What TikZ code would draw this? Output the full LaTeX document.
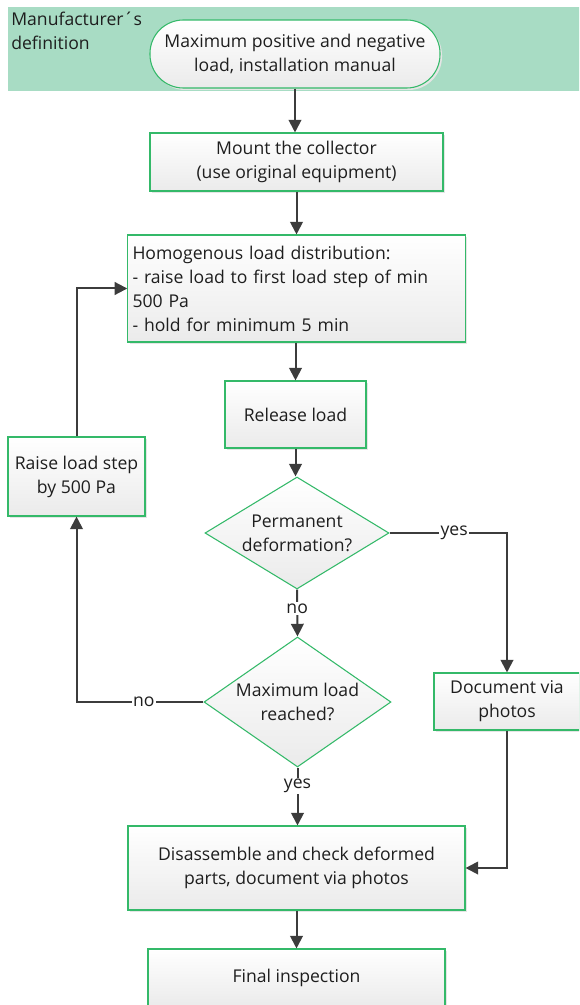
\documentclass[tikz,border=0pt]{standalone}
\usepackage{fontspec}
\setmainfont{Open Sans}
\usetikzlibrary{arrows.meta,shapes.geometric,shadows}
\definecolor{band}{RGB}{168,220,196}
\definecolor{bgreen}{RGB}{52,185,105}
\definecolor{ln}{RGB}{60,60,60}
\definecolor{tx}{RGB}{30,30,30}
\begin{document}
\begin{tikzpicture}[x=0.75pt,y=-0.75pt,
  font=\fontsize{13.2pt}{18pt}\selectfont, text=tx,
  box/.style={draw=bgreen, line width=0.8pt, top color=white, bottom color=black!8,
    align=center, inner sep=0pt,
    drop shadow={shadow xshift=1.5pt, shadow yshift=-1.5pt, fill=black!10, opacity=1}},
  dia/.style={draw=bgreen, line width=0.8pt, top color=white, bottom color=black!8,
    shape=diamond, inner sep=0pt},
  conn/.style={draw=ln, line width=1.5pt, -{Triangle[length=9.5pt,width=9.5pt]}},
  lab/.style={fill=white, inner sep=1pt, text=tx}]
\clip (0,0) rectangle (579,1005);
\useasboundingbox (0,0) rectangle (579,1005);
\fill[band] (8,7) rectangle (582,91);
\node[anchor=north west, align=left, inner sep=0pt] (mf) at (11,12) {Manufacturer´s\\definition};
\node[box, rounded corners=25pt, minimum width=217.5pt, minimum height=51pt] (term) at (295,54)
  {Maximum positive and negative\\load, installation manual};
\node[box, minimum width=219.75pt, minimum height=43.5pt] (mount) at (296.5,162)
  {Mount the collector\\(use original equipment)};
\node[box, minimum width=252.75pt, minimum height=80.25pt, align=left, text width=246pt, inner xsep=3.5pt] (homog) at (296.5,288.5)
  {Homogenous load distribution:\\- raise load to first load step of min\\500 Pa\\- hold for minimum 5 min};
\node[box, minimum width=105.75pt, minimum height=50.25pt] (release) at (295.5,414.5) {Release load};
\node[dia, minimum width=138pt, minimum height=84pt,
  label={[align=center, text=tx]center:Permanent\\deformation?}] (d1) at (297,533) {};
\node[dia, minimum width=140.25pt, minimum height=97.5pt,
  label={[align=center, text=tx]center:Maximum load\\reached?}] (d2) at (297.5,702) {};
\node[box, minimum width=102.75pt, minimum height=59.25pt] (raise) at (76.5,476.5) {Raise load step\\by 500 Pa};
\node[box, minimum width=109.5pt, minimum height=42.75pt] (doc) at (507,701.5) {Document via\\photos};
\node[box, minimum width=252.75pt, minimum height=63pt] (dis) at (296.5,868)
  {Disassemble and check deformed\\parts, document via photos};
\node[box, minimum width=222.75pt, minimum height=43.5pt] (final) at (296.5,978) {Final inspection};
\coordinate (yc) at (507,533);
\draw[conn] (term.south) -- (term.south |- mount.north);
\draw[conn] (mount.south) -- (mount.south |- homog.north);
\draw[conn] (release.north |- homog.south) -- (release.north);
\draw[conn] (release.south) -- (release.south |- d1.north);
\draw[conn] (d1.east) -- (yc) node[lab, pos=0.55] {yes} -- (doc.north);
\draw[conn] (d1.south) -- node[lab, pos=0.4] {no} (d2.north);
\draw[conn] (d2.west) -- node[lab, pos=0.47] {no} (d2.west -| raise.south) -- (raise.south);
\draw[conn] (raise.north) |- (homog.west);
\draw[conn] (d2.south) -- node[lab, pos=0.32] {yes} (d2.south |- dis.north);
\draw[conn] (doc.south) |- (dis.east);
\draw[conn] (dis.south) -- (dis.south |- final.north);
\end{tikzpicture}
\end{document}
